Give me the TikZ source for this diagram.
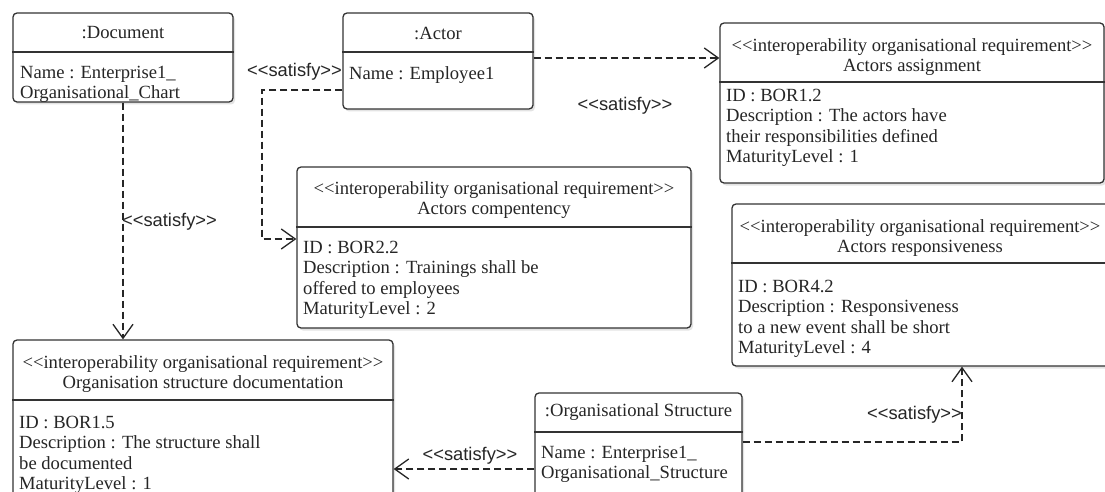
\documentclass[tikz,border=0pt]{standalone}
\usepackage{fontspec}
\setmainfont{Liberation Serif}
\newfontfamily\lblfont{Liberation Sans}
\usetikzlibrary{arrows.meta,shadows}
\newcommand\mylt{<\kern0pt<}
\newcommand\mygt{>\kern0pt>}
\begin{document}
\begin{tikzpicture}[x=1pt,y=-1pt,
  box/.style={draw=black!80, line width=1.3pt, rounded corners=4pt, fill=white,
    drop shadow={opacity=0.22, shadow xshift=2pt, shadow yshift=-2.5pt}, inner sep=0pt},
  sepline/.style={draw=black!80, line width=1.3pt},
  ttl/.style={font=\fontsize{18.6}{20}\selectfont, align=center, inner sep=0pt, text=black!85},
  bdy/.style={font=\fontsize{18.6}{20.3}\selectfont, align=left, inner sep=0pt, anchor=north west, text=black!85},
  dep/.style={draw=black!85, line width=1.2pt, dash pattern=on 7pt off 4pt,
    -{Straight Barb[length=14pt,width=20pt,line width=1.3pt]}},
  lbl/.style={font=\lblfont\fontsize{18.3}{20}\selectfont, inner sep=0pt, text=black!85}]
\useasboundingbox (0,0) rectangle (1105,492);
\fill[white] (0,0) rectangle (1105,492);
\clip (0,0) rectangle (1105,492);

% boxes
\node[box, minimum width=220pt, minimum height=89pt] (doc) at (123,57.5) {};
\node[box, minimum width=190pt, minimum height=96pt] (act) at (438,61) {};
\node[box, minimum width=384pt, minimum height=160pt] (asg) at (912,103) {};
\node[box, minimum width=394pt, minimum height=161pt] (cmp) at (494,247.5) {};
\node[box, minimum width=380pt, minimum height=162pt] (rsp) at (922,285) {};
\node[box, minimum width=380pt, minimum height=170pt] (odoc) at (203,425) {};
\node[box, minimum width=207pt, minimum height=117pt] (ost) at (638.5,451.5) {};

% separators
\draw[sepline] (doc.west |- 0,52) -- (doc.east |- 0,52);
\draw[sepline] (act.west |- 0,52) -- (act.east |- 0,52);
\draw[sepline] (asg.west |- 0,82) -- (asg.east |- 0,82);
\draw[sepline] (cmp.west |- 0,227) -- (cmp.east |- 0,227);
\draw[sepline] (rsp.west |- 0,263) -- (rsp.east |- 0,263);
\draw[sepline] (odoc.west |- 0,400) -- (odoc.east |- 0,400);
\draw[sepline] (ost.west |- 0,432) -- (ost.east |- 0,432);

% texts
\node[ttl] (doct) at (123,33) {:Document};
\node[bdy] (docb) at (20,66) {Name : Enterprise1\_\\Organisational\_Chart};

\node[ttl] (actt) at (438,33) {:Actor};
\node[bdy] (actb) at (349,66) {Name : Employee1};

\node[ttl, anchor=north] (asgt) at (912,38.5) {\mylt interoperability organisational requirement\mygt\\Actors assignment};
\node[bdy] (asgb) at (726,89) {ID : BOR1.2\\Description : The actors have\\their responsibilities defined\\MaturityLevel : 1};

\node[ttl, anchor=north] (cmpt) at (494,181.5) {\mylt interoperability organisational requirement\mygt\\Actors compentency};
\node[bdy] (cmpb) at (303,241) {ID : BOR2.2\\Description : Trainings shall be\\offered to employees\\MaturityLevel : 2};

\node[ttl, anchor=north] (rspt) at (920,219.5) {\mylt interoperability organisational requirement\mygt\\Actors responsiveness};
\node[bdy] (rspb) at (738,280) {ID : BOR4.2\\Description : Responsiveness\\to a new event shall be short\\MaturityLevel : 4};

\node[ttl, anchor=north] (odoct) at (203,355.5) {\mylt interoperability organisational requirement\mygt\\Organisation structure documentation};
\node[bdy] (odocb) at (19,416) {ID : BOR1.5\\Description : The structure shall\\be documented\\MaturityLevel : 1};

\node[ttl] (ostt) at (638.5,412) {:Organisational Structure};
\node[bdy] (ostb) at (541,446) {Name : Enterprise1\_\\Organisational\_Structure};

% connectors
\coordinate (a1) at (0,58);
\draw[dep] (act.east |- a1) -- (asg.west |- a1);
\node[lbl] (la) at (625,106) {\mylt satisfy\mygt};

\coordinate (b1) at (262,90);
\coordinate (b2) at (262,239);
\draw[dep] (act.west |- b1) -- (b1) -- (b2) -- (cmp.west |- b2);
\node[lbl, anchor=east] (lb) at (342,72) {\mylt satisfy\mygt};

\draw[dep] (doc.south) -- (doc.south |- odoc.north);
\node[lbl, anchor=west] (lc) at (122,222) {\mylt satisfy\mygt};

\coordinate (d1) at (0,469);
\draw[dep] (ost.west |- d1) -- (odoc.east |- d1);
\node[lbl] (ld) at (470,456) {\mylt satisfy\mygt};

\coordinate (e1) at (962,442);
\draw[dep] (ost.east |- e1) -- (e1) -- (e1 |- rsp.south);
\node[lbl, anchor=east] (le) at (962,415) {\mylt satisfy\mygt};
\end{tikzpicture}
\end{document}
